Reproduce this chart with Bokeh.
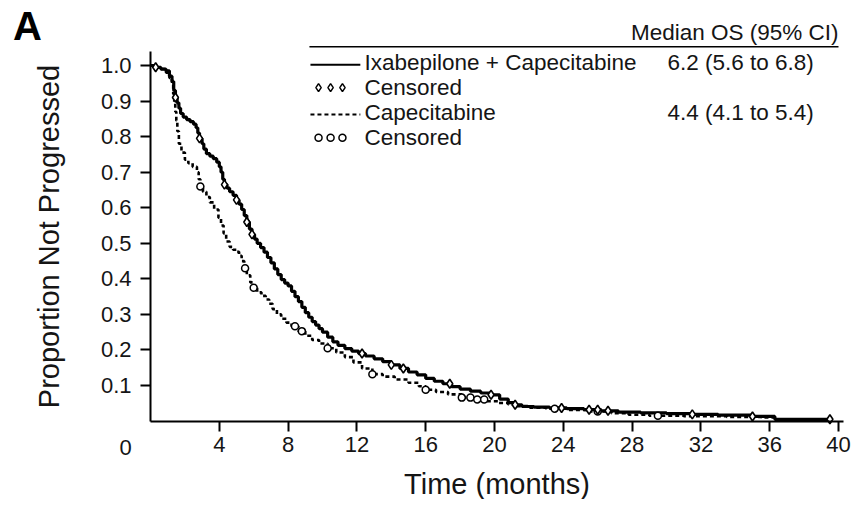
from bokeh.plotting import figure
from bokeh.models import Range1d, FixedTicker, Label, LinearAxis
from bokeh.embed import file_html
from bokeh.resources import INLINE

# ---------------- data ----------------
# Ixabepilone + Capecitabine: (time in months, proportion not progressed)
ixa_curve = [(0, 1.0), (0.3, 0.995), (0.6, 0.99), (0.9, 0.985), (1.1, 0.97), (1.25, 0.955),
             (1.35, 0.93), (1.45, 0.91), (1.55, 0.895), (1.65, 0.88), (1.75, 0.865),
             (1.9, 0.855), (2.1, 0.848), (2.3, 0.842), (2.5, 0.835), (2.65, 0.825),
             (2.75, 0.81), (2.85, 0.795), (3.0, 0.78), (3.1, 0.765), (3.25, 0.752),
             (3.45, 0.745), (3.65, 0.738), (3.85, 0.728), (4.0, 0.715), (4.1, 0.70),
             (4.2, 0.68), (4.3, 0.665), (4.45, 0.655), (4.6, 0.645), (4.8, 0.635),
             (5.0, 0.622), (5.15, 0.61), (5.3, 0.595), (5.45, 0.578), (5.6, 0.56),
             (5.75, 0.54), (5.9, 0.525), (6.05, 0.512), (6.2, 0.50), (6.4, 0.488),
             (6.6, 0.475), (6.8, 0.46), (7.0, 0.445), (7.2, 0.428), (7.4, 0.412),
             (7.6, 0.398), (7.8, 0.388), (8.0, 0.38), (8.2, 0.365), (8.4, 0.35),
             (8.6, 0.336), (8.8, 0.32), (9.0, 0.305), (9.2, 0.292), (9.4, 0.28),
             (9.6, 0.27), (9.8, 0.26), (10.0, 0.25), (10.3, 0.236), (10.6, 0.223),
             (10.9, 0.213), (11.3, 0.204), (11.7, 0.197), (12.1, 0.19), (12.5, 0.183),
             (13.0, 0.175), (13.5, 0.167), (14.0, 0.158), (14.5, 0.148), (15.0, 0.138),
             (15.5, 0.13), (16.0, 0.12), (16.5, 0.112), (17.0, 0.105), (17.5, 0.097),
             (18.0, 0.09), (18.6, 0.084), (19.2, 0.079), (19.8, 0.074), (20.3, 0.062),
             (20.8, 0.052), (21.2, 0.046), (21.6, 0.041), (22.3, 0.039), (23.2, 0.037),
             (24.2, 0.035), (25.2, 0.032), (26.2, 0.029), (27.2, 0.025), (28.5, 0.023),
             (30.0, 0.021), (31.5, 0.019), (33.0, 0.017), (35.0, 0.013), (36.3, 0.005),
             (39.5, 0.005)]

# Capecitabine
cap_curve = [(0, 1.0), (0.3, 0.995), (0.6, 0.99), (0.9, 0.98), (1.1, 0.965), (1.25, 0.945),
             (1.32, 0.92), (1.38, 0.895), (1.44, 0.87), (1.5, 0.845), (1.56, 0.815),
             (1.65, 0.78), (1.8, 0.755), (2.0, 0.735), (2.2, 0.725), (2.45, 0.715),
             (2.7, 0.70), (2.8, 0.68), (2.9, 0.66), (3.05, 0.645), (3.25, 0.63),
             (3.45, 0.615), (3.7, 0.595), (3.95, 0.572), (4.1, 0.55), (4.25, 0.528),
             (4.4, 0.505), (4.6, 0.49), (4.8, 0.482), (5.0, 0.476), (5.15, 0.465),
             (5.3, 0.45), (5.45, 0.43), (5.6, 0.41), (5.8, 0.39), (6.0, 0.375),
             (6.2, 0.362), (6.45, 0.352), (6.7, 0.342), (6.9, 0.33), (7.1, 0.315),
             (7.35, 0.30), (7.6, 0.288), (7.9, 0.277), (8.2, 0.267), (8.6, 0.253),
             (9.0, 0.24), (9.4, 0.228), (9.8, 0.218), (10.3, 0.205), (10.8, 0.193),
             (11.3, 0.18), (11.8, 0.165), (12.3, 0.148), (12.9, 0.132), (13.5, 0.125),
             (14.2, 0.117), (15.0, 0.108), (15.6, 0.098), (16.0, 0.088), (16.6, 0.082),
             (17.3, 0.075), (18.1, 0.066), (18.8, 0.061), (19.5, 0.056), (20.2, 0.051),
             (20.8, 0.047), (21.3, 0.042), (22.0, 0.038), (23.0, 0.035), (24.2, 0.031),
             (25.5, 0.027), (26.8, 0.022), (27.8, 0.018), (29.0, 0.015), (31.0, 0.014),
             (33.5, 0.012), (35.5, 0.010), (36.3, 0.004), (39.5, 0.004)]

# censoring times (months)
ixa_censored = [0.3, 1.45, 2.85, 4.3, 5.0, 5.6, 5.9, 12.3, 14.0, 14.7, 17.4, 19.8, 21.2,
                23.9, 25.5, 26.0, 26.6, 31.5, 35.0, 39.5]
cap_censored = [2.9, 5.5, 6.0, 8.4, 8.8, 10.3, 12.9, 16.0, 18.1, 18.6, 19.0, 19.4, 23.5,
                26.0, 29.5]

x_ticks = [4, 8, 12, 16, 20, 24, 28, 32, 36, 40]
x_tick_labels = ["4", "8", "12", "16", "20", "24", "28", "32", "36", "40"]
y_ticks = [0.1, 0.2, 0.3, 0.4, 0.5, 0.6, 0.7, 0.8, 0.9, 1.0]
y_tick_labels = ["0.1", "0.2", "0.3", "0.4", "0.5", "0.6", "0.7", "0.8", "0.9", "1.0"]

series_names = ["Ixabepilone + Capecitabine", "Capecitabine"]
medians = ["6.2 (5.6 to 6.8)", "4.4 (4.1 to 5.4)"]
censored_label = "Censored"
legend_header = "Median OS (95% CI)"


def km_at(curve, t):
    """Value of a step (Kaplan-Meier) curve at time t."""
    v = curve[0][1]
    for tt, ss in curve:
        if tt <= t:
            v = ss
    return v


# ---------------- figure ----------------
FONT = "Liberation Sans"
TXT = "#151515"
p = figure(width=851, height=499, output_backend="svg", toolbar_location=None,
           x_range=Range1d(-8.721, 40.756), y_range=Range1d(-0.2205, 1.1828),
           min_border=0, x_axis_location=None, y_axis_location=None)
p.outline_line_color = None
p.grid.visible = False
p.background_fill_color = "white"

xax = LinearAxis(fixed_location=0)
yax = LinearAxis(fixed_location=0)
p.add_layout(xax, "below")
p.add_layout(yax, "left")

for ax in (xax, yax):
    ax.axis_line_width = 2
    ax.axis_line_color = "black"
    ax.major_tick_line_width = 2
    ax.major_tick_line_color = "black"
    ax.major_tick_out = 10
    ax.major_tick_in = 0
    ax.minor_tick_out = 0
    ax.minor_tick_in = 0
    ax.major_label_text_font = FONT
    ax.major_label_text_font_size = "22px"
    ax.major_label_text_color = TXT
    ax.axis_label_text_font = FONT
    ax.axis_label_text_font_style = "normal"
    ax.axis_label_text_font_size = "29px"
    ax.axis_label_text_color = TXT

xax.bounds = (0, 40.3)
yax.bounds = (0, 1.04)
xax.ticker = FixedTicker(ticks=x_ticks)
yax.ticker = FixedTicker(ticks=y_ticks)
xax.major_label_overrides = dict(zip(x_ticks, x_tick_labels))
yax.major_label_overrides = dict(zip(y_ticks, y_tick_labels))
xax.major_label_standoff = 6
yax.major_label_standoff = 9
xax.axis_label = "Time (months)"
yax.axis_label = "Proportion Not Progressed"
xax.axis_label_standoff = 12
yax.axis_label_standoff = 33

# ---------------- curves ----------------
ixa_t = [c[0] for c in ixa_curve]
ixa_s = [c[1] for c in ixa_curve]
cap_t = [c[0] for c in cap_curve]
cap_s = [c[1] for c in cap_curve]

p.step(cap_t, cap_s, mode="after", line_color="black", line_width=2.6,
       line_dash="4 3")
p.step(ixa_t, ixa_s, mode="after", line_color="black", line_width=3.2)
p.scatter(cap_censored, [km_at(cap_curve, t) for t in cap_censored], marker="circle",
          size=7, line_color="black", line_width=1.5, fill_color="white")
p.scatter(ixa_censored, [km_at(ixa_curve, t) for t in ixa_censored], marker="diamond",
          size=9, line_color="black", line_width=1.6, fill_color="white")

# ---------------- legend block (layout positions in data units) ----------------
lg = dict(x_rule0=9.24, x_rule1=40.0, y_rule=1.053, y_head=1.093,
          x_s0=9.3, x_s1=12.2, x_txt=12.44, x_med=30.06,
          rows=[1.008, 0.938, 0.868, 0.797], marks=[9.77, 10.47, 11.16])
LFS = "22.5px"

p.line([lg["x_rule0"], lg["x_rule1"]], [lg["y_rule"]] * 2, line_color="black",
       line_width=1.5)
p.add_layout(Label(x=lg["x_rule1"], y=lg["y_head"], text=legend_header,
                   text_align="right", text_baseline="middle", text_font=FONT,
                   text_font_size=LFS, text_color=TXT))

r = lg["rows"]
p.line([lg["x_s0"], lg["x_s1"]], [r[0] - 0.006] * 2, line_color="black", line_width=2)
p.line([lg["x_s0"], lg["x_s1"]], [r[2] - 0.006] * 2, line_color="black", line_width=2,
       line_dash="4 3")
p.scatter(lg["marks"], [r[1]] * 3, marker="diamond", size=8, line_color="black",
          line_width=1.5, fill_color="white")
p.scatter(lg["marks"], [r[3]] * 3, marker="circle", size=7, line_color="black",
          line_width=1.5, fill_color="white")

row_texts = [series_names[0], censored_label, series_names[1], censored_label]
for yy, txt in zip(r, row_texts):
    p.add_layout(Label(x=lg["x_txt"], y=yy, text=txt, text_align="left",
                       text_baseline="middle", text_font=FONT,
                       text_font_size=LFS, text_color=TXT))
for yy, txt in zip([r[0], r[2]], medians):
    p.add_layout(Label(x=lg["x_med"], y=yy, text=txt, text_align="left",
                       text_baseline="middle", text_font=FONT,
                       text_font_size=LFS, text_color=TXT))

# origin label and panel letter
p.add_layout(Label(x=0, y=0, x_offset=-25, y_offset=-26, text="0",
                   text_align="center", text_baseline="middle", text_font=FONT,
                   text_font_size="22px", text_color=TXT))
p.add_layout(Label(x=-8.0, y=1.112, text="A", text_align="left",
                   text_baseline="alphabetic", text_font=FONT, text_font_style="bold",
                   text_font_size="40px", text_color="black"))

open("out.html", "w").write(file_html(p, INLINE))
